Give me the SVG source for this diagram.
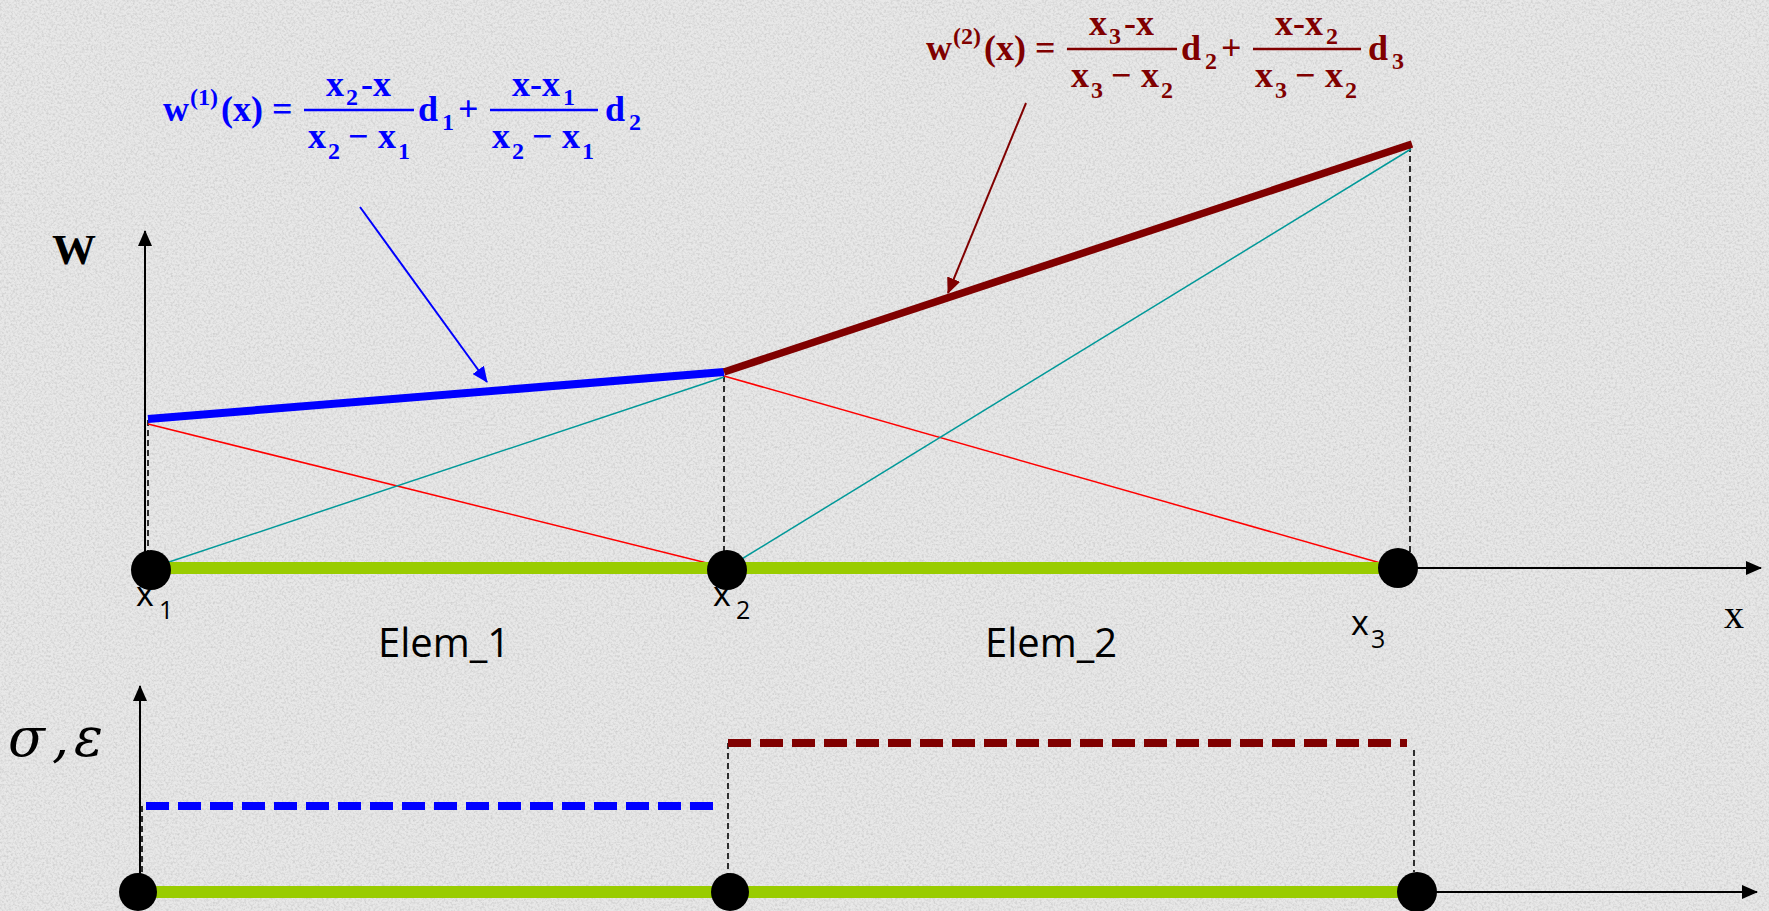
<svg xmlns="http://www.w3.org/2000/svg" width="1769" height="911" viewBox="0 0 1769 911">
<defs>
<style>
.eq{font-family:"Liberation Serif","Times New Roman",serif;font-weight:bold;font-size:36px}
.s{font-size:24px}
.blue{fill:#0000FF}
.dred{fill:#800000}
.lbl{font-family:"Open Sans","Liberation Sans",sans-serif;fill:#000}
.ser{font-family:"Liberation Serif","Times New Roman",serif;fill:#000}
.greek{font-family:"DejaVu Serif","Liberation Serif",serif;font-style:italic;font-size:54px;fill:#000}
.bar{stroke-width:2.5}
.axis{stroke:#000;stroke-width:2;fill:none}
.guide{stroke:#000;stroke-width:1.6;stroke-dasharray:6 4;fill:none}
.thin{stroke-width:1.5;fill:none}
.green{stroke:#99CC00;stroke-width:12;fill:none}
.node{fill:#000}
</style>
<filter id="noise" x="0" y="0" width="100%" height="100%">
<feTurbulence type="fractalNoise" baseFrequency="0.45" numOctaves="3" seed="7"/>
<feColorMatrix type="matrix" values="0 0 0 0 0.55  0 0 0 0 0.55  0 0 0 0 0.55  1.8 0 0 0 -0.72"/>
</filter>
<marker id="ak" viewBox="0 0 16 14" refX="15" refY="7" markerWidth="16" markerHeight="14" markerUnits="userSpaceOnUse" orient="auto"><path d="M0,0 L16,7 L0,14 z" fill="#000"/></marker>
<marker id="ab" viewBox="0 0 16 14" refX="15" refY="7" markerWidth="16" markerHeight="14" markerUnits="userSpaceOnUse" orient="auto"><path d="M0,0 L16,7 L0,14 z" fill="#0000FF"/></marker>
<marker id="ar" viewBox="0 0 16 14" refX="15" refY="7" markerWidth="16" markerHeight="14" markerUnits="userSpaceOnUse" orient="auto"><path d="M0,0 L16,7 L0,14 z" fill="#800000"/></marker>
</defs>
<rect width="1769" height="911" fill="#E8E8E8"/>
<rect width="1769" height="911" filter="url(#noise)" opacity="0.85"/>

<g id="connectors">
  <!-- top axes -->
  <line class="axis" x1="145" y1="568" x2="145" y2="231" marker-end="url(#ak)"/>
  <line class="axis" x1="1398" y1="568" x2="1761" y2="568" marker-end="url(#ak)"/>
  <!-- guides -->
  <line class="guide" x1="148" y1="420" x2="148" y2="556"/>
  <line class="guide" x1="724" y1="376" x2="724" y2="556"/>
  <line class="guide" x1="1410" y1="146" x2="1410" y2="556"/>
  <!-- shape functions -->
  <line class="thin" stroke="#FF0000" x1="148" y1="424" x2="727" y2="568"/>
  <line class="thin" stroke="#FF0000" x1="724" y1="376" x2="1398" y2="568"/>
  <line class="thin" stroke="#009999" x1="151" y1="568" x2="724" y2="377"/>
  <line class="thin" stroke="#009999" x1="727" y1="568" x2="1411" y2="149"/>
  <!-- approximations -->
  <line stroke="#0000FF" stroke-width="8" x1="148" y1="419" x2="724" y2="372"/>
  <line stroke="#800000" stroke-width="7.5" x1="724" y1="372" x2="1412" y2="144"/>
  <!-- callout arrows -->
  <line stroke="#0000FF" stroke-width="2" x1="360" y1="207" x2="487" y2="382" marker-end="url(#ab)"/>
  <line stroke="#800000" stroke-width="2" x1="1026" y1="103" x2="948" y2="293" marker-end="url(#ar)"/>
  <!-- element bar top -->
  <line class="green" x1="151" y1="568" x2="1398" y2="568"/>

  <!-- bottom axes -->
  <line class="axis" x1="140" y1="892" x2="140" y2="686" marker-end="url(#ak)"/>
  <line class="axis" x1="1417" y1="892" x2="1757" y2="892" marker-end="url(#ak)"/>
  <line class="guide" x1="142" y1="806" x2="142" y2="878"/>
  <line class="guide" x1="728" y1="743" x2="728" y2="874"/>
  <line class="guide" x1="1414" y1="750" x2="1414" y2="872"/>
  <line stroke="#0000FF" stroke-width="8" stroke-dasharray="23 9" x1="146" y1="806" x2="713" y2="806"/>
  <line stroke="#800000" stroke-width="8" stroke-dasharray="23 9" x1="728" y1="743" x2="1407" y2="743"/>
  <line class="green" x1="138" y1="892" x2="1417" y2="892"/>
</g>

<g id="node-x1"><circle class="node" cx="151" cy="570" r="20"/><text class="lbl"><tspan x="136" y="606" font-size="34">x</tspan><tspan x="159" y="619" font-size="25">1</tspan></text></g>
<g id="node-x2"><circle class="node" cx="727" cy="570" r="20"/><text class="lbl"><tspan x="713" y="606" font-size="34">x</tspan><tspan x="736" y="619" font-size="25">2</tspan></text></g>
<g id="node-x3"><circle class="node" cx="1398" cy="568" r="20"/><text class="lbl"><tspan x="1351" y="635" font-size="34">x</tspan><tspan x="1371" y="648" font-size="25">3</tspan></text></g>

<g id="node-b1"><circle class="node" cx="138" cy="892" r="19"/></g>
<g id="node-b2"><circle class="node" cx="730" cy="892" r="19"/></g>
<g id="node-b3"><circle class="node" cx="1417" cy="892" r="20"/></g>

<g id="labels">
  <text class="ser" x="52" y="264" font-size="42" font-weight="bold" textLength="44" lengthAdjust="spacingAndGlyphs">W</text>
  <text class="ser" x="1724" y="628" font-size="40">x</text>
  <text class="greek"><tspan x="8" y="756">σ</tspan><tspan x="52" y="756">,</tspan><tspan x="74" y="756">ε</tspan></text>
  <text class="lbl" x="378" y="657" font-size="40">Elem_1</text>
  <text class="lbl" x="985" y="657" font-size="40">Elem_2</text>
</g>

<g id="formula-1" transform="translate(0,5)">
  <text class="eq blue">
    <tspan x="163" y="116">w</tspan><tspan class="s" x="190" y="100">(1)</tspan><tspan x="221" y="116">(x)</tspan><tspan x="272" y="116">=</tspan>
    <tspan x="326" y="91">x</tspan><tspan class="s" x="346" y="100">2</tspan><tspan x="361" y="91">-x</tspan>
    <tspan x="308" y="143">x</tspan><tspan class="s" x="328" y="154">2</tspan><tspan x="348" y="143">−</tspan><tspan x="378" y="143">x</tspan><tspan class="s" x="398" y="154">1</tspan>
    <tspan x="418" y="116">d</tspan><tspan class="s" x="442" y="125">1</tspan><tspan x="458" y="116">+</tspan>
    <tspan x="512" y="91">x-x</tspan><tspan class="s" x="563" y="100">1</tspan>
    <tspan x="492" y="143">x</tspan><tspan class="s" x="512" y="154">2</tspan><tspan x="532" y="143">−</tspan><tspan x="562" y="143">x</tspan><tspan class="s" x="582" y="154">1</tspan>
    <tspan x="605" y="116">d</tspan><tspan class="s" x="629" y="125">2</tspan>
  </text>
  <line class="bar" stroke="#0000FF" x1="304" y1="105" x2="414" y2="105"/>
  <line class="bar" stroke="#0000FF" x1="490" y1="105" x2="598" y2="105"/>
</g>

<g id="formula-2" transform="translate(763,-56)">
  <text class="eq dred">
    <tspan x="163" y="116">w</tspan><tspan class="s" x="190" y="100">(2)</tspan><tspan x="221" y="116">(x)</tspan><tspan x="272" y="116">=</tspan>
    <tspan x="326" y="91">x</tspan><tspan class="s" x="346" y="100">3</tspan><tspan x="361" y="91">-x</tspan>
    <tspan x="308" y="143">x</tspan><tspan class="s" x="328" y="154">3</tspan><tspan x="348" y="143">−</tspan><tspan x="378" y="143">x</tspan><tspan class="s" x="398" y="154">2</tspan>
    <tspan x="418" y="116">d</tspan><tspan class="s" x="442" y="125">2</tspan><tspan x="458" y="116">+</tspan>
    <tspan x="512" y="91">x-x</tspan><tspan class="s" x="563" y="100">2</tspan>
    <tspan x="492" y="143">x</tspan><tspan class="s" x="512" y="154">3</tspan><tspan x="532" y="143">−</tspan><tspan x="562" y="143">x</tspan><tspan class="s" x="582" y="154">2</tspan>
    <tspan x="605" y="116">d</tspan><tspan class="s" x="629" y="125">3</tspan>
  </text>
  <line class="bar" stroke="#800000" x1="304" y1="105" x2="414" y2="105"/>
  <line class="bar" stroke="#800000" x1="490" y1="105" x2="598" y2="105"/>
</g>
</svg>
